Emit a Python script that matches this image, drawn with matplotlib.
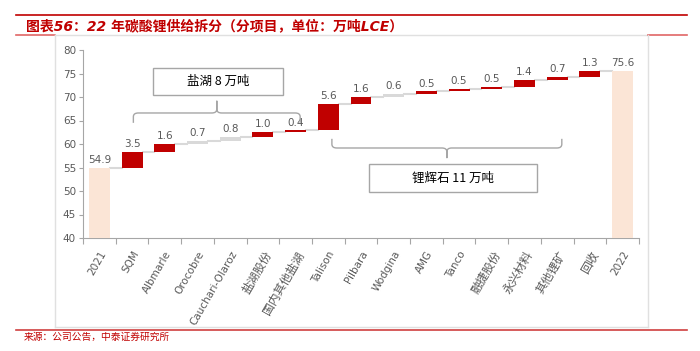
import numpy as np
import matplotlib
matplotlib.use('Agg')
import matplotlib.pyplot as plt
from matplotlib.patches import Rectangle, PathPatch
from matplotlib.path import Path
from matplotlib.lines import Line2D

plt.rcParams['font.family'] = ['DejaVu Sans', 'Noto Sans CJK SC']

# --- data ---
categories = ['2021', 'SQM', 'Albmarle', 'Orocobre', 'Cauchari-Olaroz', '盐湖股份', '国内其他盐湖',
              'Talison', 'Pilbara', 'Wodgina', 'AMG', 'Tanco', '融捷股份', '永兴材料', '其他锂矿',
              '回收', '2022']
start_value = 54.9
increments = [3.5, 1.6, 0.7, 0.8, 1.0, 0.4, 5.6, 1.6, 0.6, 0.5, 0.5, 0.5, 1.4, 0.7, 1.3]
end_value = 75.6
grey_items = ['Orocobre', 'Cauchari-Olaroz', 'Wodgina']
yticks = [40, 45, 50, 55, 60, 65, 70, 75, 80]

RED = '#C00000'
PEACH = '#FBE5D6'
LGREY = '#D9D9D9'
TXT = '#595959'
AXC = '#A6A6A6'

W, H = 700, 351
fig = plt.figure(figsize=(7, 3.51), dpi=100)

def fx(px):
    return px / W

def fy(py):
    return 1 - py / H

ax = fig.add_axes([fx(83), fy(238), fx(639) - fx(83), fy(50) - fy(238)])

x = np.arange(len(categories))
values = [start_value] + increments + [end_value]
cum = np.cumsum([start_value] + increments)
bottoms = [0] + list(cum[:-1]) + [0]
tops = list(cum) + [end_value]
colors = []
for i, c in enumerate(categories):
    if i == 0 or i == len(categories) - 1:
        colors.append(PEACH)
    elif c in grey_items:
        colors.append(LGREY)
    else:
        colors.append(RED)

bw = 0.64
ax.bar(x, values, bottom=bottoms, width=bw, color=colors, zorder=3)

# connectors
for i in range(len(categories) - 1):
    ax.plot([x[i] + bw / 2, x[i + 1] - bw / 2], [tops[i], tops[i]], color=LGREY, lw=1.5, zorder=2)

# labels
for i, v in enumerate(values):
    ax.text(x[i], tops[i] + 0.6, f'{v:.1f}', ha='center', va='bottom', fontsize=7.5, color=TXT)

ax.set_ylim(40, 80)
ax.set_xlim(-0.5, len(categories) - 0.5)
ax.set_yticks(yticks)
ax.tick_params(axis='y', colors=AXC, labelcolor=TXT, labelsize=7.5, length=3, width=0.8, pad=2)
ax.set_xticks(np.arange(len(categories) + 1) - 0.5)
ax.set_xticklabels([])
ax.set_xticks(x, minor=True)
ax.set_xticklabels(categories, minor=True, rotation=60, ha='right', va='top',
                   rotation_mode='anchor', fontsize=7.5, color=TXT)
for lab in ax.get_xticklabels(minor=True):
    if not lab.get_text().isascii():
        lab.set_fontsize(8.5)
ax.tick_params(axis='x', which='major', colors=AXC, length=4, width=0.8)
ax.tick_params(axis='x', which='minor', length=0, pad=8)
for s in ['top', 'right']:
    ax.spines[s].set_visible(False)
for s in ['left', 'bottom']:
    ax.spines[s].set_color(AXC)
    ax.spines[s].set_linewidth(0.8)


def brace(x0, x1, y_line, y_end, y_tip, rx=0.15, ry=0.8):
    xc = (x0 + x1) / 2
    d = 1 if y_tip > y_line else -1
    e = 1 if y_end > y_line else -1
    verts, codes = [], []
    for xa, sx in [(x0, 1), (x1, -1)]:
        verts += [(xa, y_end), (xa, y_line + e * ry), (xa, y_line), (xa + sx * rx, y_line),
                  (xc - sx * rx, y_line), (xc, y_line), (xc, y_line + d * ry), (xc, y_tip)]
        codes += [Path.MOVETO, Path.LINETO, Path.CURVE3, Path.CURVE3,
                  Path.LINETO, Path.CURVE3, Path.CURVE3, Path.LINETO]
    ax.add_patch(PathPatch(Path(verts, codes), fill=False, edgecolor=AXC, lw=1, zorder=4))


def label_box(x0, x1, y0, y1, text):
    ax.add_patch(Rectangle((x0, y0), x1 - x0, y1 - y0, facecolor='white', edgecolor=AXC,
                           lw=1, zorder=4))
    ax.text((x0 + x1) / 2, (y0 + y1) / 2, text, ha='center', va='center', fontsize=9,
            family=['Noto Sans CJK SC'], color='black', zorder=5)


brace(1.04, 6.14, 66.6, 64.5, 69.2)
label_box(1.65, 5.62, 70.4, 76.2, '盐湖 8 万吨')
brace(7.11, 14.14, 59.15, 61.1, 57.0)
label_box(8.24, 13.37, 49.8, 55.7, '锂辉石 11 万吨')

# frame / decorations
def fline(x0, y0, x1, y1, color, lw):
    fig.add_artist(Line2D([fx(x0), fx(x1)], [fy(y0), fy(y1)], color=color, lw=lw,
                          transform=fig.transFigure))

fline(16, 15, 687, 15, '#C00000', 1.2)
fline(16, 34.5, 55, 34.5, '#E06666', 1.2)
fline(55, 34.5, 648, 34.5, '#E0E0E0', 1.0)
fline(648, 34.5, 687, 34.5, '#E06666', 1.2)
fline(55, 35, 55, 327, '#E0E0E0', 1.0)
fline(648, 35, 648, 327, '#E0E0E0', 1.0)
fline(55, 327, 648, 327, '#E0E0E0', 1.0)
fline(16, 329.5, 687, 329.5, '#D04040', 1.2)

fig.text(fx(26), fy(26), '图表56：22 年碳酸锂供给拆分（分项目，单位：万吨LCE）', ha='left', va='center',
         fontsize=10, fontweight='bold', style='italic', color='#C00000',
         family=['DejaVu Sans', 'Noto Sans CJK SC'])
fig.text(fx(24), fy(337), '来源：公司公告，中泰证券研究所', ha='left', va='center',
         fontsize=7, color='#C00000', family=['Noto Sans CJK SC'])

fig.savefig('out.png', dpi=100)
